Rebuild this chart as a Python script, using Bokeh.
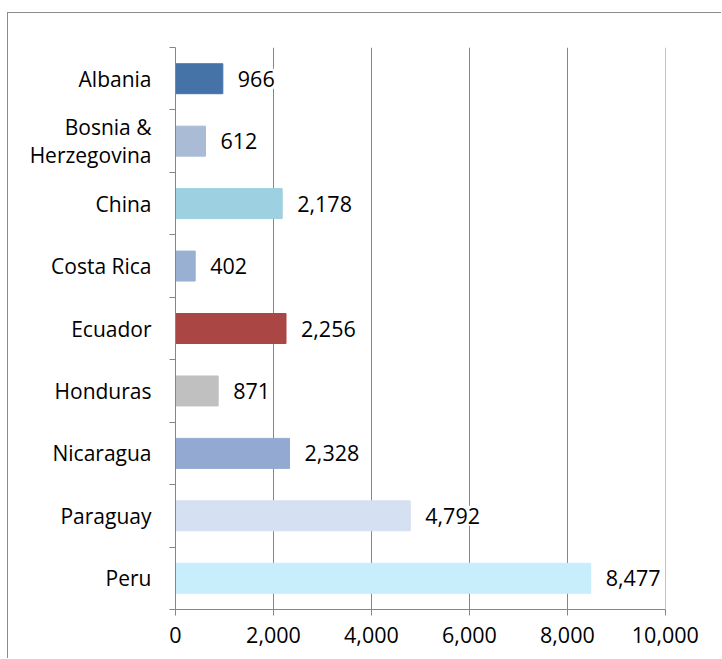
from bokeh.plotting import figure
from bokeh.models import FixedTicker, NumeralTickFormatter, Range1d, ColumnDataSource
from bokeh.core.properties import value
from bokeh.embed import file_html
from bokeh.resources import INLINE

countries = ["Albania", "Bosnia &\nHerzegovina", "China", "Costa Rica", "Ecuador",
             "Honduras", "Nicaragua", "Paraguay", "Peru"]
amounts = [966, 612, 2178, 402, 2256, 871, 2328, 4792, 8477]
colors = ["#4572A7", "#AABBD5", "#9DD0E0", "#9AB0D2", "#AA4643",
          "#C0C0C0", "#93A9D2", "#D5E0F2", "#C8EDFB"]
x_ticks = [0, 2000, 4000, 6000, 8000, 10000]

n = len(countries)
ypos = [n - 0.5 - i for i in range(n)]
labels = [f"{v:,}" for v in amounts]

FONT = "Open Sans"
GRAY = "#868686"

src = ColumnDataSource(dict(y=ypos, right=amounts, color=colors, label=labels))

p = figure(width=714, height=646, output_backend="svg", toolbar_location=None,
           x_range=Range1d(0, 10003), y_range=Range1d(0, n),
           min_border_left=167, min_border_right=57, min_border_top=34, min_border_bottom=50,
           styles={"margin-left": "7px", "margin-top": "12px",
                   "border-left": "1px solid #8c8c8c", "border-top": "1px solid #8c8c8c"})
p.outline_line_color = None
p.background_fill_color = "white"
p.border_fill_color = "white"

p.hbar(y="y", right="right", left=0, height=0.48, color="color", source=src)
p.text(x="right", y="y", text="label", source=src, x_offset=13,
       text_baseline="middle", text_align="left", text_font=value(FONT),
       text_font_size="21.5px", text_color="black",
       background_fill_color="white", background_fill_alpha=1.0,
       padding=2)

# x axis
p.xaxis.ticker = FixedTicker(ticks=x_ticks)
p.xaxis.formatter = NumeralTickFormatter(format="0,0")
p.xaxis.axis_line_color = GRAY
p.xaxis.major_tick_line_color = GRAY
p.xaxis.major_tick_out = 6
p.xaxis.major_tick_in = 0
p.xaxis.minor_tick_line_color = None
p.xaxis.major_label_text_font = FONT
p.xaxis.major_label_text_font_size = "21.5px"
p.xaxis.major_label_text_color = "black"
p.xaxis.major_label_standoff = 11

# y axis: labels at centers, ticks at boundaries
p.yaxis.ticker = FixedTicker(ticks=ypos, minor_ticks=list(range(n + 1)))
p.yaxis.major_label_overrides = {y: c for y, c in zip(ypos, countries)}
p.yaxis.axis_line_color = GRAY
p.yaxis.major_tick_line_color = None
p.yaxis.minor_tick_line_color = GRAY
p.yaxis.minor_tick_out = 6
p.yaxis.minor_tick_in = 0
p.yaxis.major_label_text_font = FONT
p.yaxis.major_label_text_font_size = "21px"
p.yaxis.major_label_text_color = "black"
p.yaxis.major_label_text_line_height = 1.0
p.yaxis.major_label_standoff = 18
p.yaxis.major_label_text_align = "center"

p.xgrid.ticker = FixedTicker(ticks=x_ticks)
p.xgrid.grid_line_color = GRAY
p.ygrid.grid_line_color = None

open("out.html", "w").write(file_html(p, INLINE))
